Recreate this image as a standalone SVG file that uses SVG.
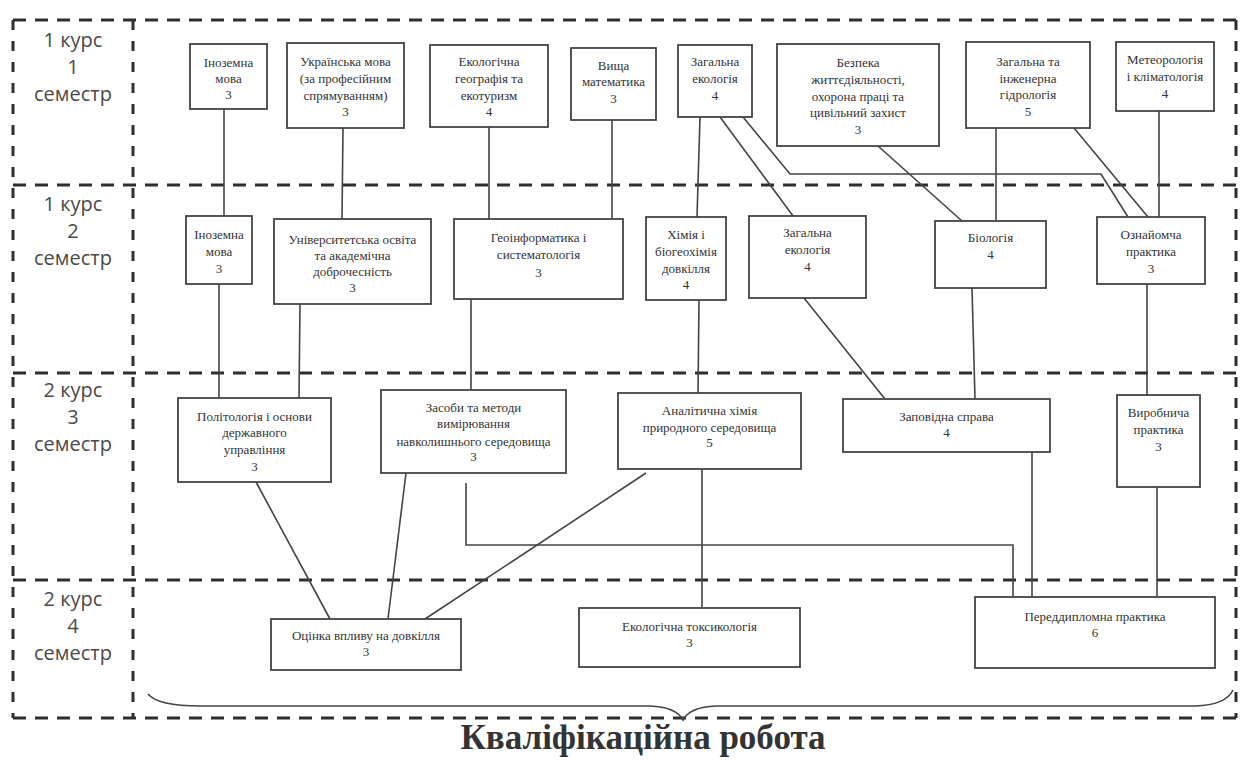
<svg xmlns="http://www.w3.org/2000/svg" width="1246" height="762" viewBox="0 0 1246 762">
<style>
.bg{fill:#ffffff}
.frame{fill:none;stroke:#2e2e2e;stroke-width:3}
.h{stroke-dasharray:13 9}
.v{stroke-dasharray:10 11}
.box{fill:#ffffff;stroke:#444;stroke-width:1.8}
.lbl{font-family:"Liberation Serif","Times New Roman",serif;font-size:13px;fill:#333;text-anchor:middle}
.sem{font-family:"Open Sans","Liberation Sans",sans-serif;font-size:20px;fill:#4a4a4a;text-anchor:middle}
.conn{fill:none;stroke:#444;stroke-width:1.6}
.title{font-family:"Liberation Serif","Times New Roman",serif;font-size:35px;font-weight:bold;fill:#333;text-anchor:middle}
</style>
<rect class="bg" x="0" y="0" width="1246" height="762"/>
<g id="grid">
<line class="frame h" x1="13" y1="20" x2="1236" y2="20"/>
<line class="frame h" x1="13" y1="185" x2="1236" y2="185"/>
<line class="frame h" x1="13" y1="373" x2="1236" y2="373"/>
<line class="frame h" x1="13" y1="580" x2="1236" y2="580"/>
<line class="frame h" x1="13" y1="718" x2="1236" y2="718"/>
<line class="frame v" x1="13" y1="20" x2="13" y2="718"/>
<line class="frame v" x1="133" y1="20" x2="133" y2="718"/>
<line class="frame v" x1="1236" y1="20" x2="1236" y2="718"/>
</g>
<g id="semesters">
<text class="sem" x="73" y="47">1 курс<tspan x="73" dy="27">1</tspan><tspan x="73" dy="27">семестр</tspan></text>
<text class="sem" x="73" y="211">1 курс<tspan x="73" dy="27">2</tspan><tspan x="73" dy="27">семестр</tspan></text>
<text class="sem" x="73" y="397">2 курс<tspan x="73" dy="27">3</tspan><tspan x="73" dy="27">семестр</tspan></text>
<text class="sem" x="73" y="606">2 курс<tspan x="73" dy="27">4</tspan><tspan x="73" dy="27">семестр</tspan></text>
</g>
<g id="connectors">
<line class="conn" x1="224" y1="109" x2="224" y2="216"/>
<line class="conn" x1="343" y1="128" x2="342" y2="219"/>
<line class="conn" x1="489" y1="127" x2="489" y2="219"/>
<line class="conn" x1="612" y1="120" x2="612" y2="219"/>
<line class="conn" x1="700" y1="117" x2="697" y2="217"/>
<line class="conn" x1="720" y1="117" x2="793" y2="216"/>
<polyline class="conn" points="743,117 790,174 1101,174 1128,217"/>
<line class="conn" x1="1074" y1="128" x2="1148" y2="217"/>
<line class="conn" x1="878" y1="146" x2="962" y2="221"/>
<line class="conn" x1="996" y1="128" x2="996" y2="221"/>
<line class="conn" x1="1159" y1="111" x2="1159" y2="217"/>
<line class="conn" x1="219" y1="284" x2="219" y2="398"/>
<line class="conn" x1="300" y1="304" x2="299" y2="398"/>
<line class="conn" x1="471" y1="299" x2="471" y2="390"/>
<line class="conn" x1="699" y1="300" x2="698" y2="393"/>
<line class="conn" x1="804" y1="298" x2="885" y2="399"/>
<line class="conn" x1="972" y1="288" x2="975" y2="399"/>
<line class="conn" x1="1147" y1="284" x2="1147" y2="395"/>
<line class="conn" x1="256" y1="482" x2="330" y2="619"/>
<line class="conn" x1="406" y1="473" x2="388" y2="619"/>
<line class="conn" x1="646" y1="473" x2="425" y2="619"/>
<polyline class="conn" points="466,483 466,545 1013,545 1013,597"/>
<line class="conn" x1="1032" y1="452" x2="1032" y2="597"/>
<line class="conn" x1="1157" y1="487" x2="1157" y2="597"/>
<line class="conn" x1="702" y1="469" x2="702" y2="608"/>
</g>
<g id="n1"><rect class="box" x="190" y="44" width="77" height="65"/><text class="lbl" x="228.5" y="67">Іноземна<tspan x="228.5" dy="16">мова</tspan><tspan x="228.5" dy="16">3</tspan></text></g>
<g id="n2"><rect class="box" x="287" y="43" width="117" height="85"/><text class="lbl" x="345.5" y="66">Українська мова<tspan x="345.5" dy="17">(за професійним</tspan><tspan x="345.5" dy="17">спрямуванням)</tspan><tspan x="345.5" dy="16">3</tspan></text></g>
<g id="n3"><rect class="box" x="430" y="45" width="118" height="82"/><text class="lbl" x="489" y="66">Екологічна<tspan x="489" dy="17">географія та</tspan><tspan x="489" dy="17">екотуризм</tspan><tspan x="489" dy="16">4</tspan></text></g>
<g id="n4"><rect class="box" x="571" y="48" width="85" height="72"/><text class="lbl" x="613.5" y="70">Вища<tspan x="613.5" dy="16">математика</tspan><tspan x="613.5" dy="17">3</tspan></text></g>
<g id="n5"><rect class="box" x="678" y="45" width="74" height="72"/><text class="lbl" x="715" y="66">Загальна<tspan x="715" dy="17">екологія</tspan><tspan x="715" dy="17">4</tspan></text></g>
<g id="n6"><rect class="box" x="777" y="44" width="162" height="102"/><text class="lbl" x="858" y="67">Безпека<tspan x="858" dy="17">життєдіяльності,</tspan><tspan x="858" dy="17">охорона праці та</tspan><tspan x="858" dy="16">цивільний захист</tspan><tspan x="858" dy="17">3</tspan></text></g>
<g id="n7"><rect class="box" x="966" y="42" width="124" height="86"/><text class="lbl" x="1028" y="66">Загальна та<tspan x="1028" dy="17">інженерна</tspan><tspan x="1028" dy="16">гідрологія</tspan><tspan x="1028" dy="17">5</tspan></text></g>
<g id="n8"><rect class="box" x="1116" y="42" width="98" height="69"/><text class="lbl" x="1165" y="64">Метеорологія<tspan x="1165" dy="17">і кліматологія</tspan><tspan x="1165" dy="17">4</tspan></text></g>
<g id="n9"><rect class="box" x="186" y="216" width="66" height="68"/><text class="lbl" x="219" y="239">Іноземна<tspan x="219" dy="17">мова</tspan><tspan x="219" dy="17">3</tspan></text></g>
<g id="n10"><rect class="box" x="274" y="219" width="157" height="85"/><text class="lbl" x="352.5" y="244">Університетська освіта<tspan x="352.5" dy="16">та академічна</tspan><tspan x="352.5" dy="16">доброчесність</tspan><tspan x="352.5" dy="16">3</tspan></text></g>
<g id="n11"><rect class="box" x="454" y="219" width="169" height="80"/><text class="lbl" x="538.5" y="242">Геоінформатика і<tspan x="538.5" dy="17">систематологія</tspan><tspan x="538.5" dy="18">3</tspan></text></g>
<g id="n12"><rect class="box" x="646" y="217" width="80" height="83"/><text class="lbl" x="686" y="239">Хімія і<tspan x="686" dy="17">біогеохімія</tspan><tspan x="686" dy="17">довкілля</tspan><tspan x="686" dy="16">4</tspan></text></g>
<g id="n13"><rect class="box" x="749" y="216" width="117" height="82"/><text class="lbl" x="807.5" y="237">Загальна<tspan x="807.5" dy="17">екологія</tspan><tspan x="807.5" dy="17">4</tspan></text></g>
<g id="n14"><rect class="box" x="935" y="221" width="111" height="67"/><text class="lbl" x="990.5" y="242">Біологія<tspan x="990.5" dy="17">4</tspan></text></g>
<g id="n15"><rect class="box" x="1097" y="217" width="108" height="67"/><text class="lbl" x="1151" y="239">Ознайомча<tspan x="1151" dy="17">практика</tspan><tspan x="1151" dy="17">3</tspan></text></g>
<g id="n16"><rect class="box" x="178" y="398" width="153" height="84"/><text class="lbl" x="254.5" y="421">Політологія і основи<tspan x="254.5" dy="16">державного</tspan><tspan x="254.5" dy="17">управління</tspan><tspan x="254.5" dy="17">3</tspan></text></g>
<g id="n17"><rect class="box" x="381" y="390" width="185" height="83"/><text class="lbl" x="473.5" y="412">Засоби та методи<tspan x="473.5" dy="16">вимірювання</tspan><tspan x="473.5" dy="18">навколишнього середовища</tspan><tspan x="473.5" dy="15">3</tspan></text></g>
<g id="n18"><rect class="box" x="618" y="393" width="183" height="76"/><text class="lbl" x="709.5" y="415">Аналітична хімія<tspan x="709.5" dy="17">природного середовища</tspan><tspan x="709.5" dy="15">5</tspan></text></g>
<g id="n19"><rect class="box" x="843" y="399" width="207" height="53"/><text class="lbl" x="946.5" y="421">Заповідна справа<tspan x="946.5" dy="16">4</tspan></text></g>
<g id="n20"><rect class="box" x="1117" y="395" width="83" height="92"/><text class="lbl" x="1158.5" y="417">Виробнича<tspan x="1158.5" dy="17">практика</tspan><tspan x="1158.5" dy="17">3</tspan></text></g>
<g id="n21"><rect class="box" x="271" y="619" width="190" height="51"/><text class="lbl" x="366" y="640">Оцінка впливу на довкілля<tspan x="366" dy="16">3</tspan></text></g>
<g id="n22"><rect class="box" x="579" y="608" width="221" height="59"/><text class="lbl" x="689.5" y="631">Екологічна токсикологія<tspan x="689.5" dy="16">3</tspan></text></g>
<g id="n23"><rect class="box" x="975" y="597" width="240" height="71"/><text class="lbl" x="1095" y="621">Переддипломна практика<tspan x="1095" dy="16">6</tspan></text></g>
<g id="brace">
<path class="conn" d="M148,694 Q158,706 200,706 L650,706 Q676,707 683,720 Q690,707 716,706 L1195,706 Q1226,705 1233,690" stroke="#555" stroke-width="2"/>
</g>
<text class="title" x="643" y="749">Кваліфікаційна робота</text>
</svg>
